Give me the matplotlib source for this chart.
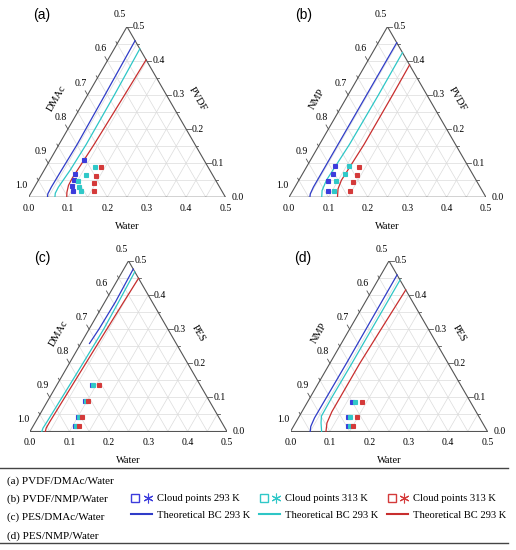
import numpy as np
import matplotlib.pyplot as plt
from matplotlib.lines import Line2D
from matplotlib.legend_handler import HandlerTuple

plt.rcParams['font.family'] = ['Liberation Serif', 'DejaVu Serif']

SQ3 = np.sqrt(3) / 2

# mass fractions: (water, polymer); solvent = 1 - water - polymer
tags = ['(a)', '(b)', '(c)', '(d)']
solvents = ['DMAc', 'NMP', 'DMAc', 'NMP']
polymers = ['PVDF', 'PVDF', 'PES', 'PES']
systems = ['(a) PVDF/DMAc/Water', '(b) PVDF/NMP/Water',
           '(c) PES/DMAc/Water', '(d) PES/NMP/Water']

# theoretical binodal curves
bc_a_w = [[0.048, 0.044, 0.043, 0.044, 0.046, 0.044, 0.041],
          [0.067, 0.062, 0.061, 0.066, 0.069, 0.068, 0.065],
          [0.097, 0.090, 0.084, 0.083, 0.089, 0.094, 0.097]]
bc_a_p = [[0.0, 0.01, 0.03, 0.08, 0.155, 0.3, 0.459],
          [0.0, 0.012, 0.03, 0.08, 0.155, 0.3, 0.435],
          [0.0, 0.015, 0.035, 0.056, 0.155, 0.3, 0.403]]
bc_b_w = [[0.053, 0.049, 0.047, 0.047, 0.047, 0.047],
          [0.083, 0.074, 0.070, 0.076, 0.077, 0.076],
          [0.123, 0.112, 0.108, 0.113, 0.113, 0.112]]
bc_b_p = [[0.0, 0.01, 0.03, 0.155, 0.3, 0.453],
          [0.0, 0.02, 0.05, 0.155, 0.3, 0.424],
          [0.0, 0.025, 0.05, 0.155, 0.3, 0.388]]
bc_c_w = [[0.022, 0.025, 0.027, 0.024],
          [0.030, 0.028, 0.029, 0.033, 0.037, 0.035, 0.032],
          [0.039, 0.036, 0.036, 0.040, 0.045, 0.048, 0.051]]
bc_c_p = [[0.258, 0.3, 0.38, 0.476],
          [0.0, 0.01, 0.03, 0.15, 0.3, 0.38, 0.468],
          [0.0, 0.01, 0.03, 0.15, 0.3, 0.38, 0.449]]
bc_d_w = [[0.050, 0.044, 0.041, 0.042, 0.041],
          [0.079, 0.065, 0.056, 0.055, 0.056, 0.056],
          [0.090, 0.080, 0.076, 0.076, 0.080, 0.085]]
bc_d_p = [[0.0, 0.015, 0.04, 0.2, 0.459],
          [0.0, 0.025, 0.045, 0.1, 0.2, 0.444],
          [0.0, 0.025, 0.058, 0.2, 0.3, 0.415]]

# cloud points
cp_a_w = [[0.086, 0.084, 0.089, 0.094, 0.104],
          [0.123, 0.113, 0.102, 0.112, 0.123],
          [0.140, 0.140, 0.146, 0.158]]
cp_a_p = [[0.110, 0.068, 0.051, 0.033, 0.019],
          [0.090, 0.064, 0.049, 0.031, 0.019],
          [0.088, 0.061, 0.041, 0.017]]
cp_b_w = [[0.070, 0.077, 0.075, 0.090],
          [0.106, 0.109, 0.096, 0.105],
          [0.133, 0.141, 0.140, 0.145]]
cp_b_p = [[0.093, 0.068, 0.049, 0.019],
          [0.093, 0.068, 0.049, 0.019],
          [0.089, 0.064, 0.046, 0.019]]
cp_c_w = [[0.089, 0.094, 0.101, 0.106],
          [0.093, 0.097, 0.104, 0.109],
          [0.106, 0.102, 0.111, 0.116]]
cp_c_p = [[0.136, 0.090, 0.043, 0.017],
          [0.136, 0.090, 0.043, 0.017],
          [0.136, 0.090, 0.043, 0.017]]
cp_d_w = [[0.112, 0.125, 0.137],
          [0.120, 0.131, 0.142],
          [0.139, 0.149, 0.149]]
cp_d_p = [[0.087, 0.042, 0.017],
          [0.087, 0.042, 0.017],
          [0.087, 0.042, 0.017]]

cloud_labels = ['Cloud points 293 K', 'Cloud points 313 K', 'Cloud points 313 K']
bc_labels = ['Theoretical BC 293 K', 'Theoretical BC 293 K', 'Theoretical BC 293 K']
pt_colors = ['#3c3cdc', '#30c8c8', '#d43a3a']
ln_colors = ['#2f3cc8', '#2ec6c6', '#c82e2e']

W, H = 516, 550
# triangle bottom-left corner (px) and width (px) per panel
corners = [(28.5, 197.3), (289.0, 197.3), (30.0, 431.5), (290.5, 431.5)]
tag_pos = [(41.7, 15), (303.3, 15), (42.7, 258), (303.0, 258)]
tri_w = 197.0


def tern(w, p):
    w = np.asarray(w, float)
    p = np.asarray(p, float)
    return w + p / 2, p * SQ3


def draw_frame(ax, solvent, polymer):
    gc = '#dcdcdc'
    for k in range(1, 10):
        v = k * 0.05
        ax.plot(*tern([0, 0.5 - v], [v, v]), color=gc, lw=0.5, zorder=1)
        ax.plot(*tern([v, v], [0, 0.5 - v]), color=gc, lw=0.5, zorder=1)
        ax.plot(*tern([v, 0], [0, v]), color=gc, lw=0.5, zorder=1)
    ax.plot(*tern([0, 0.5, 0, 0], [0, 0, 0.5, 0]), color='#555555', lw=0.8, zorder=2)
    for k in range(11):
        v = k * 0.05
        major = k % 2 == 0
        L = 0.012 if major else 0.006
        # bottom axis (water)
        bx, by = tern(v, 0)
        ax.plot([bx, bx - 0.5 * L], [by, by - SQ3 * L], color='#555555', lw=0.6)
        # right axis (polymer)
        rx, ry = tern(0.5 - v, v)
        ax.plot([rx, rx + L], [ry, ry], color='#555555', lw=0.6)
        # left axis (solvent)
        lx, ly = tern(0, v)
        ax.plot([lx, lx - 0.5 * L], [ly, ly + SQ3 * L], color='#555555', lw=0.6)
        if major:
            ax.text(bx, by - 0.029, f'{v:.1f}', ha='center', va='center', fontsize=7)
            ax.text(rx + 0.015, ry, f'{v:.1f}', ha='left', va='center', fontsize=7)
            ax.text(lx - 0.018, ly + 0.030, f'{1 - v:.1f}', ha='center', va='center', fontsize=7)
    ax.text(0.25, -0.073, 'Water', ha='center', va='center', fontsize=7.5)
    ax.text(0.072, 0.25, solvent, ha='center', va='center', rotation=60, fontsize=7.5)
    ax.text(0.428, 0.25, polymer, ha='center', va='center', rotation=-60, fontsize=7.5)


fig = plt.figure(figsize=(W / 100, H / 100), dpi=100)

bc_w = [bc_a_w, bc_b_w, bc_c_w, bc_d_w]
bc_p = [bc_a_p, bc_b_p, bc_c_p, bc_d_p]
cp_w = [cp_a_w, cp_b_w, cp_c_w, cp_d_w]
cp_p = [cp_a_p, cp_b_p, cp_c_p, cp_d_p]

for i in range(4):
    x0, y0 = corners[i]
    ax = fig.add_axes([x0 / W, 1 - y0 / H, tri_w / W, tri_w * SQ3 / H])
    ax.set_xlim(0, 0.5)
    ax.set_ylim(0, 0.5 * SQ3)
    ax.axis('off')
    draw_frame(ax, solvents[i], polymers[i])
    for j in range(3):
        ax.plot(*tern(bc_w[i][j], bc_p[i][j]), color=ln_colors[j], lw=0.9, zorder=3)
        cx, cy = tern(cp_w[i][j], cp_p[i][j])
        ax.plot(cx, cy, 's', mfc='none', mec=pt_colors[j], ms=3.4, mew=0.8, zorder=4)
        ax.plot(cx, cy, marker=(6, 2, 0), ls='none', color=pt_colors[j], ms=3.4, mew=0.6, zorder=4)
    fig.text(tag_pos[i][0] / W, 1 - tag_pos[i][1] / H, tags[i],
             ha='center', va='center', fontsize=10, family=['Liberation Sans', 'DejaVu Sans'])

# legend table
for yy in [468, 543]:
    fig.add_artist(Line2D([0, 508 / W], [1 - yy / H, 1 - yy / H], color='#444444', lw=1.0))
for k, s in enumerate(systems):
    fig.text(7 / W, 1 - (481 + 18.3 * k) / H, s, ha='left', va='center', fontsize=8)

handles, labels = [], []
for j in range(3):
    sq = Line2D([], [], marker='s', ls='none', mfc='none', mec=pt_colors[j], ms=6, mew=1.0)
    st = Line2D([], [], marker=(6, 2, 0), ls='none', color=pt_colors[j], ms=7, mew=0.8)
    handles += [(sq, st), Line2D([], [], color=ln_colors[j], lw=1.5)]
    labels += [cloud_labels[j], bc_labels[j]]
fig.legend(handles, labels, ncol=3, loc='upper left', frameon=False,
           bbox_to_anchor=(131 / W, 1 - 494 / H), fontsize=7.6,
           handler_map={tuple: HandlerTuple(ndivide=None, pad=0.3)},
           handlelength=2.0, handletextpad=0.45, columnspacing=0.85,
           labelspacing=0.7, borderpad=0, borderaxespad=0)

fig.savefig('out.png', dpi=100)
